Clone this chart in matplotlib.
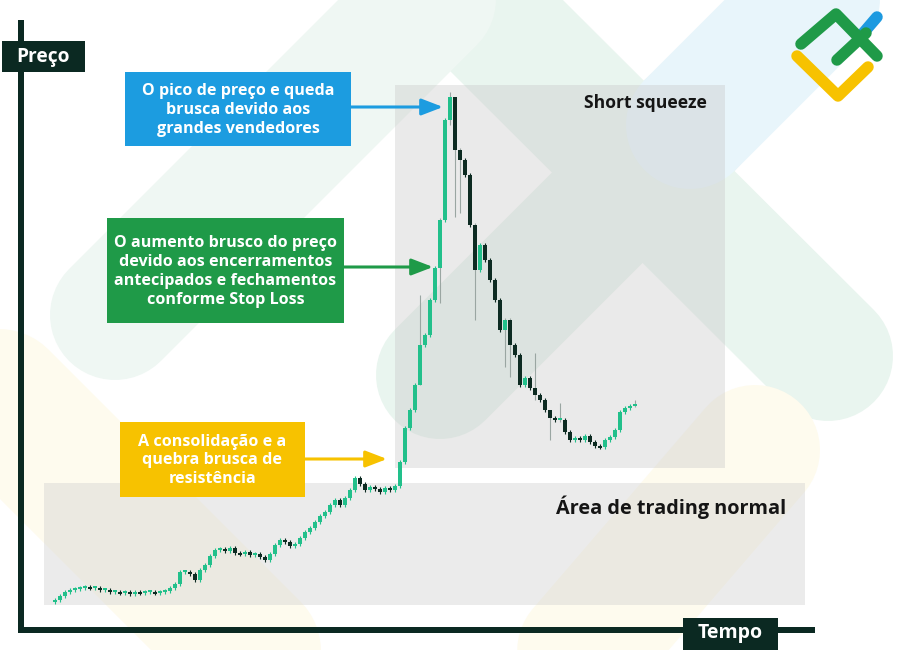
import matplotlib
matplotlib.use("Agg")
import matplotlib.pyplot as plt
from matplotlib.patches import Rectangle
import numpy as np

# ---------------- data ----------------
closes = [2.0, 2.8, 3.6, 4.0, 4.2, 4.4, 4.6, 4.4, 4.4, 4.0,
          4.0, 3.6, 3.6, 3.4, 3.6, 3.2, 3.6, 3.4, 3.6, 3.6,
          3.4, 3.6, 3.8, 4.4, 5.2, 7.6, 7.6, 7.2, 6.0, 8.0,
          9.0, 10.8, 12.0, 12.2, 11.8, 12.4, 11.4, 11.2, 11.6, 11.0,
          11.2, 10.6, 10.0, 11.2, 13.0, 14.0, 13.6, 12.8, 13.2, 14.4,
          15.6, 16.4, 17.6, 18.8, 19.6, 21.0, 22.0, 21.0, 22.4, 24.0,
          26.4, 25.2, 24.0, 24.6, 24.2, 23.6, 24.4, 24.0, 24.8, 29.6,
          36.4, 40.0, 45.0, 53.0, 55.0, 62.0, 68.4, 78.0, 98.0, 102.6,
          92.0, 90.0, 87.0, 77.0, 68.0, 73.0, 70.0, 66.0, 62.0, 56.0,
          58.0, 53.0, 51.0, 45.0, 46.4, 44.4, 43.0, 42.0, 40.0, 38.4,
          38.0, 38.0, 35.6, 34.0, 34.4, 34.0, 34.8, 33.6, 32.8, 32.6,
          34.0, 34.6, 36.0, 39.6, 40.4, 40.8, 41.2]
first_open = 1.6
# notable long wicks: candle index -> (high, low)
long_wicks = {73: (63.0, 45.0), 77: (78.5, 61.4), 79: (103.6, 97.0),
              80: (102.6, 78.6), 81: (92.5, 79.4), 84: (77.5, 58.0),
              90: (58.5, 48.6), 91: (58.5, 46.6), 96: (51.4, 42.0),
              99: (40.0, 34.0), 101: (41.4, 37.6), 116: (42.0, 40.6)}

box_texts = {
    "blue": ["O pico de preço e queda", "brusca devido aos", "grandes vendedores"],
    "green": ["O aumento brusco do preço", "devido aos encerramentos",
              "antecipados e fechamentos", "conforme Stop Loss"],
    "yellow": ["A consolidação e a", "quebra brusca de", "resistência"],
}
axis_labels = ["Preço", "Tempo"]
zone_labels = ["Short squeeze", "Área de trading normal"]

# ---------------- style ----------------
plt.rcParams['font.family'] = ['Open Sans', 'DejaVu Sans']
DARK = "#0b2922"
UP = "#22c08b"
DOWN = "#0d2b22"
BLUE = "#1c9ce0"
GREEN = "#1f9a48"
YELLOW = "#f7c200"

fig = plt.figure(figsize=(9, 6.5), dpi=100)
ax = fig.add_axes([0, 0, 1, 1])
ax.set_xlim(0, 900)
ax.set_ylim(650, 0)
ax.axis("off")

PX = 0.72  # points per pixel at dpi 100

def band(p0, p1, width_px, color, z=0):
    ax.plot([p0[0], p1[0]], [p0[1], p1[1]], color=color, lw=width_px * PX,
            solid_capstyle="round", zorder=z)

# faint watermark bands
band((200, -270), (828, 356), 130, "#e9f5ef", 0)        # "\" green band
band((440, 375), (690, 125), 128, "#e9f5ef", 0)          # "/" lower part green
band((690, 125), (1000, -185), 128, "#e8f5fb", 0)        # "/" upper part blue
band((115, 315), (520, -90), 130, "#eff7f3", 0)          # upper-left "/" band
band((-30, 370), (330, 730), 140, "#fefbee", 0)          # yellow "\" band
band((755, 450), (540, 700), 130, "#fefbee", 0)          # yellow "/" band

# grey zones
ax.add_patch(Rectangle((44, 483), 761, 122, facecolor="#cfcfcf", alpha=0.4,
                       edgecolor="none", zorder=1))
ax.add_patch(Rectangle((395, 85), 330, 383, facecolor="#c8c8c8", alpha=0.38,
                       edgecolor="none", zorder=1))
ax.text(707, 103, zone_labels[0], ha="right", va="center", fontsize=12.6,
        fontweight="bold", color="#151515", zorder=3)
ax.text(786, 507, zone_labels[1], ha="right", va="center", fontsize=14.3,
        fontweight="bold", color="#151515", zorder=3)

# axes lines
ax.plot([21, 21], [20, 631], color=DARK, lw=6 * PX, solid_capstyle="butt", zorder=5)
ax.plot([18, 815], [630, 630], color=DARK, lw=6 * PX, solid_capstyle="butt", zorder=5)
ax.add_patch(Rectangle((2, 41), 83, 31, facecolor=DARK, edgecolor="none", zorder=6))
ax.text(43.5, 57, axis_labels[0], ha="center", va="center", color="white",
        fontsize=13.8, fontweight="bold", zorder=7)
ax.add_patch(Rectangle((683, 618), 95, 34, facecolor=DARK, edgecolor="none", zorder=6))
ax.text(730.5, 633, axis_labels[1], ha="center", va="center", color="white",
        fontsize=14, fontweight="bold", zorder=7)

# annotation boxes
def note(x0, y0, x1, y1, color, lines, arrow_from, arrow_to):
    ax.add_patch(Rectangle((x0, y0), x1 - x0, y1 - y0, facecolor=color,
                           edgecolor="none", zorder=6))
    ax.text((x0 + x1) / 2, (y0 + y1) / 2 + 1, "\n".join(lines), ha="center",
            va="center", color="white", fontsize=11.6, fontweight="bold",
            linespacing=1.24, zorder=7)
    ax.annotate("", xy=arrow_to, xytext=arrow_from,
                arrowprops=dict(arrowstyle="-|>,head_length=1.3,head_width=0.5",
                                color=color, lw=2.2, shrinkA=0, shrinkB=0),
                zorder=7)

note(125, 72, 351, 146, BLUE, box_texts["blue"], (351, 107), (443, 107))
note(107, 218, 344, 323, GREEN, box_texts["green"], (344, 267), (433, 267))
note(120, 422, 305, 497, YELLOW, box_texts["yellow"], (305, 459), (387, 459))

# logo
def stroke(pts, color):
    xs, ys = zip(*pts)
    ax.plot(xs, ys, color=color, lw=11.5 * PX, solid_capstyle="round",
            solid_joinstyle="round", zorder=8)

stroke([(859, 38), (877, 17)], "#1d9ae0")
stroke([(797, 56), (838, 96), (868, 67)], "#f7c200")
stroke([(801, 44), (836, 14), (877, 56)], "#1f9a48")
stroke([(837, 60), (866, 33)], "#1f9a48")

# ---------------- candles ----------------
cax = fig.add_axes([50 / 900, 40 / 650, 595 / 900, 520 / 650])
cax.set_xlim(-1, 118)
cax.set_ylim(0, 104)
cax.axis("off")
cax.patch.set_alpha(0)

n = len(closes)
idx = np.arange(n)
opens = [first_open] + closes[:-1]
for i in range(n):
    o, c = opens[i], closes[i]
    col = UP if c >= o else DOWN
    hi, lo = long_wicks.get(i, (max(o, c) + 0.4, min(o, c) - 0.4))
    wcol = "#9aa6a2" if i in long_wicks else col
    cax.vlines(idx[i], lo, hi, color=wcol, lw=0.8, zorder=2)
    h = c - o
    if abs(h) < 0.35:
        h = 0.35 if h >= 0 else -0.35
    cax.bar(idx[i], h, bottom=o, width=0.72, color=col, edgecolor="none", zorder=3)

fig.savefig("out.png", dpi=100)
